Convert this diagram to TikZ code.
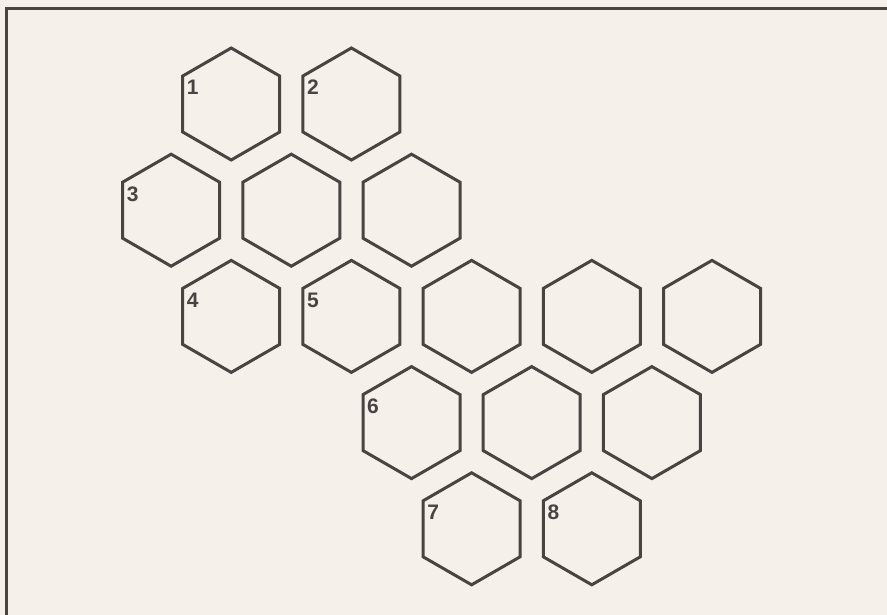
\documentclass[tikz,border=0pt]{standalone}
\usepackage{fontspec}
\setmainfont{Liberation Sans}
\usetikzlibrary{shapes.geometric}
\definecolor{paper}{RGB}{246,240,235}
\definecolor{ink}{RGB}{72,68,66}
\tikzset{
  cell/.style={draw=ink, line width=3pt, regular polygon, regular polygon sides=6,
    shape border rotate=30, minimum size=112pt, inner sep=0pt, outer sep=0pt},
  num/.style={anchor=north west, text=ink, inner sep=4pt, font=\fontsize{21}{21}\selectfont\bfseries}
}
\begin{document}
\begin{tikzpicture}[x=1pt, y=-1pt]
    \fill[paper] (0,0) rectangle (887,615);
    \useasboundingbox (0,0) rectangle (887,615);
    % frame, only top and left edges survive in the scan
    \draw[ink, line width=3pt] (6,615) -- (6,9) -- (887,9);
    % honeycomb cells, column k and row r on a staggered grid
    \foreach \n/\k/\r in {c1/2/0, c2/4/0,
                          c3/1/1, c4/3/1, c5/5/1,
                          c6/2/2, c7/4/2, c8/6/2, c9/8/2, c10/10/2,
                          c11/5/3, c12/7/3, c13/9/3,
                          c14/6/4, c15/8/4}
        \node[cell] (\n) at ({111+60.1*\k},{104+106.2*\r}) {};
    % numbers in the upper left corner
    \foreach \c/\t in {c1/1, c2/2, c3/3, c6/4, c7/5, c11/6, c14/7, c15/8}
        \node[num] (n\t) at (\c.150) {\t};
\end{tikzpicture}
\end{document}
